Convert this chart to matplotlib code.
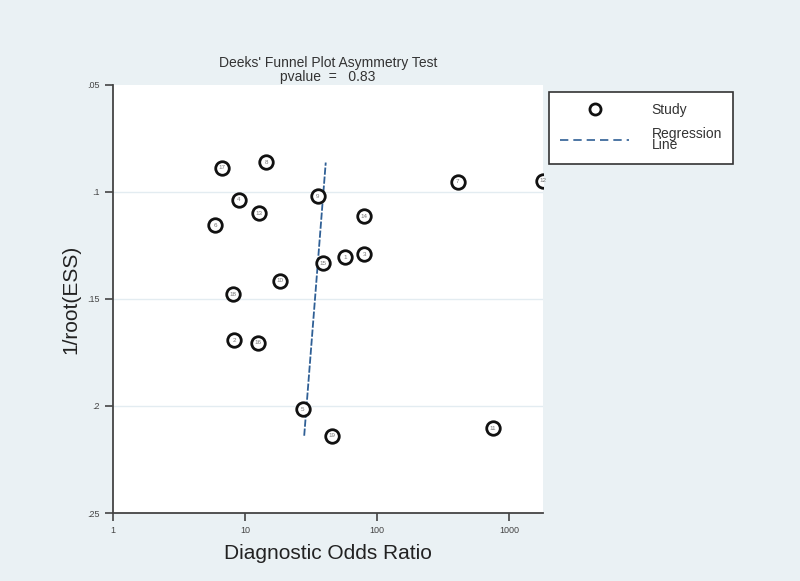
import numpy as np
import matplotlib.pyplot as plt
from matplotlib.lines import Line2D

plt.rcParams['font.family'] = ['Liberation Sans', 'DejaVu Sans']

# study data
study_ids = ['1', '2', '3', '4', '5', '6', '7', '8', '9', '10',
             '11', '12', '13', '14', '15', '16', '17', '18', '19']
dor = [57.5, 8.3, 80.1, 8.96, 27.4, 5.93, 408, 14.5, 35.7, 18.4,
       757, 1800, 12.8, 79.7, 39.2, 12.5, 6.73, 8.16, 45.6]
inv_root_ess = [0.1305, 0.1693, 0.1291, 0.1036, 0.2015, 0.1157, 0.0952, 0.0861, 0.102, 0.1416,
                0.2103, 0.0947, 0.110, 0.1114, 0.1333, 0.1704, 0.0888, 0.1477, 0.214]

# regression line end points
reg_dor = [28.1, 40.9]
reg_ess = [0.2139, 0.0863]

bg = '#eaf1f4'
line_col = '#2f5f95'
fig = plt.figure(figsize=(8, 5.81), dpi=100, facecolor=bg)
ax = fig.add_axes([0.141, 0.117, 0.538, 0.737])
ax.set_facecolor('white')

ax.plot(reg_dor, reg_ess, color=line_col, lw=1.3, ls=(0, (4, 1)), zorder=2)
ax.scatter(dor, inv_root_ess, s=95, facecolor='white', edgecolor='#111111',
           linewidths=2.0, zorder=3)
for sid, x, y in zip(study_ids, dor, inv_root_ess):
    ax.text(x, y, sid, ha='center', va='center', fontsize=4.5, color='#777777', zorder=4)

ax.set_xscale('log')
ax.set_xlim(1, 1810)
ax.set_ylim(0.25, 0.05)
ax.set_xticks([1, 10, 100, 1000])
ax.set_xticklabels(['1', '10', '100', '1000'])
ax.minorticks_off()
ax.set_yticks([0.05, 0.1, 0.15, 0.2, 0.25])
ax.set_yticklabels(['.05', '.1', '.15', '.2', '.25'])
ax.tick_params(labelsize=6.5, length=6, width=1.2, color='#444444', labelcolor='#444444')
for y in [0.1, 0.15, 0.2]:
    ax.axhline(y, color='#e3ecf1', lw=1, zorder=1)

for s in ['top', 'right']:
    ax.spines[s].set_visible(False)
for s in ['left', 'bottom']:
    ax.spines[s].set_color('#444444')
    ax.spines[s].set_linewidth(1.3)

ax.set_xlabel('Diagnostic Odds Ratio', fontsize=15, color='#222222', labelpad=6)
ax.set_ylabel('1/root(ESS)', fontsize=15, color='#222222', labelpad=5)
ax.set_title("Deeks' Funnel Plot Asymmetry Test\npvalue  =   0.83", fontsize=10,
             color='#333333', linespacing=1.0, pad=3)

handles = [Line2D([], [], marker='o', ls='none', markersize=8, markerfacecolor='white',
                  markeredgecolor='#111111', markeredgewidth=2.0),
           Line2D([], [], color=line_col, lw=1.2, ls=(0, (5, 3)))]
leg = fig.legend(handles, ['Study', 'Regression\nLine'], loc='upper left',
                 bbox_to_anchor=(0.686, 0.842), fontsize=10, frameon=True, fancybox=False,
                 edgecolor='#333333', facecolor='white', framealpha=1,
                 handlelength=5, borderpad=0.8, labelspacing=0.7,
                 handletextpad=1.6, borderaxespad=0)
leg.get_frame().set_linewidth(1.2)
for t in leg.get_texts():
    t.set_linespacing(0.8)
    t.set_color('#333333')

fig.savefig('out.png', dpi=100, facecolor=bg)
